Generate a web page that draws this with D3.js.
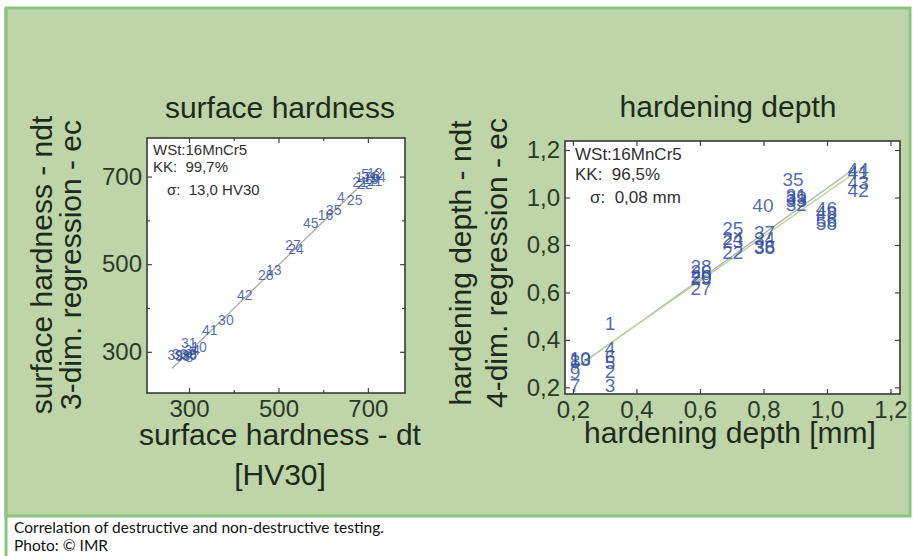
<!DOCTYPE html>
<html><head><meta charset="utf-8">
<script src="https://cdn.jsdelivr.net/npm/d3@7"></script>
<style>html,body{margin:0;padding:0;background:#fff;}svg{display:block;}</style>
</head><body>
<svg id="c" width="913" height="556"></svg>
<script>
// ---------- DATA ----------
// surface hardness chart (HV30)
const shIds = ["39","33","38","36","8","9","34","31","10","41","30","42","28","13","27","24","45","16","35","4","25","22","21","17","19","11","5","12","14","6"];
const shDt  = [252,262,268,283,292,300,290,282,305,329,365,407,454,472,515,522,555,588,606,631,653,676,665,672,690,700,685,698,705,710];
const shNdt = [292,296,290,293,289,295,304,320,312,350,372,430,475,487,544,535,594,612,624,653,647,682,688,700,695,690,705,708,700,702];
const shTicks = [300,500,700];
const shTickLabels = ["300","500","700"];
const shMinorTicks = [400,600];
const shFitX = [262,722];
const shFitY = [262,718];

// hardening depth chart (mm)
const hdIds = ["1","4","6","5","2","3","10","8","13","9","7","28","26","20","29","27","25","24","23","22","37","34","36","38","40","35","31","39","33","32","46","48","56","58","44","41","43","42"];
const hdDt  = [0.30,0.30,0.30,0.30,0.30,0.30,0.19,0.19,0.19,0.19,0.19,0.57,0.57,0.57,0.57,0.57,0.67,0.67,0.67,0.67,0.77,0.77,0.77,0.77,0.765,0.86,0.87,0.87,0.87,0.87,0.965,0.965,0.965,0.965,1.065,1.065,1.065,1.065];
const hdNdt = [0.47,0.366,0.33,0.305,0.27,0.21,0.325,0.31,0.318,0.265,0.21,0.71,0.69,0.67,0.66,0.62,0.87,0.83,0.815,0.77,0.855,0.83,0.795,0.79,0.968,1.077,1.01,1.0,0.99,0.97,0.955,0.94,0.905,0.89,1.12,1.105,1.065,1.03];
const hdTicks = [0.2,0.4,0.6,0.8,1.0,1.2];
const hdTickLabels = ["0,2","0,4","0,6","0,8","1,0","1,2"];
const hdFitGreyX = [0.2,1.09], hdFitGreyY = [0.272,1.125];
const hdFitGreenX = [0.21,1.10], hdFitGreenY = [0.285,1.115];

const captionLines = ["Correlation of destructive and non-destructive testing.","Photo: \u00A9 IMR"];

// ---------- DRAW ----------
const svg = d3.select("#c");
const FONT = "'Liberation Sans', Arial, sans-serif";
const DARK = "#1d2b1d";
const BLUE = "#2f4b9c";

// background panel
svg.append("rect").attr("x",6).attr("y",8).attr("width",904).attr("height",508)
  .attr("fill","#bdd5a8").attr("stroke","#8dc47f").attr("stroke-width",3);
svg.append("line").attr("x1",6).attr("x2",6).attr("y1",8).attr("y2",556)
  .attr("stroke","#8dc47f").attr("stroke-width",3);

function panel(cfg){
  const g = svg.append("g");
  const x = d3.scaleLinear().domain(cfg.xDom).range([cfg.L, cfg.R]);
  const y = d3.scaleLinear().domain(cfg.yDom).range([cfg.B, cfg.T]);
  g.append("rect").attr("x",cfg.L).attr("y",cfg.T).attr("width",cfg.R-cfg.L).attr("height",cfg.B-cfg.T)
    .attr("fill","#fff");
  const clip = "clip"+cfg.name;
  g.append("clipPath").attr("id",clip).append("rect").attr("x",cfg.L).attr("y",cfg.T)
    .attr("width",cfg.R-cfg.L).attr("height",cfg.B-cfg.T);
  const inner = g.append("g").attr("clip-path","url(#"+clip+")");

  // fit lines
  cfg.fits.forEach(f=>{
    inner.append("line").attr("x1",x(f.xs[0])).attr("x2",x(f.xs[1]))
      .attr("y1",y(f.ys[0])).attr("y2",y(f.ys[1]))
      .attr("stroke",f.color).attr("stroke-width",f.w);
  });
  // point labels
  inner.selectAll("text.pt").data(cfg.ids.map((id,i)=>({id,dx:cfg.dt[i],dy:cfg.ndt[i]})))
    .join("text").attr("class","pt")
    .attr("x",d=>x(d.dx)).attr("y",d=>y(d.dy)).attr("dy","0.36em")
    .attr("font-family",FONT).attr("font-size",cfg.ptSize)
    .attr("fill",BLUE).attr("fill-opacity",0.82).text(d=>d.id);

  // annotation
  const an = g.append("g").attr("font-family",FONT).attr("font-size",cfg.anSize).attr("fill","#303030");
  cfg.ann.forEach(a=>an.append("text").attr("x",a[0]).attr("y",a[1]).attr("xml:space","preserve").text(a[2]));

  // axes
  const fmt = (vals,labs)=> (v=>labs[vals.indexOf(v)]);
  const ax = g.append("g").attr("transform",`translate(0,${cfg.B})`)
    .call(d3.axisBottom(x).tickValues(cfg.ticksX).tickFormat(fmt(cfg.ticksX,cfg.labsX)).tickSize(-5).tickPadding(7));
  const ay = g.append("g").attr("transform",`translate(${cfg.L},0)`)
    .call(d3.axisLeft(y).tickValues(cfg.ticksY).tickFormat(fmt(cfg.ticksY,cfg.labsY)).tickSize(-5).tickPadding(5));
  const at = g.append("g").attr("transform",`translate(0,${cfg.T})`)
    .call(d3.axisTop(x).tickValues(cfg.ticksX).tickFormat("").tickSize(-5));
  const ar = g.append("g").attr("transform",`translate(${cfg.R},0)`)
    .call(d3.axisRight(y).tickValues(cfg.ticksY).tickFormat("").tickSize(-5));
  const minors = [];
  if (cfg.minor){
    minors.push(g.append("g").attr("transform",`translate(0,${cfg.B})`).call(d3.axisBottom(x).tickValues(cfg.minor).tickFormat("").tickSize(-3)));
    minors.push(g.append("g").attr("transform",`translate(0,${cfg.T})`).call(d3.axisTop(x).tickValues(cfg.minor).tickFormat("").tickSize(-3)));
    minors.push(g.append("g").attr("transform",`translate(${cfg.L},0)`).call(d3.axisLeft(y).tickValues(cfg.minor).tickFormat("").tickSize(-3)));
    minors.push(g.append("g").attr("transform",`translate(${cfg.R},0)`).call(d3.axisRight(y).tickValues(cfg.minor).tickFormat("").tickSize(-3)));
  }
  [ax,ay,at,ar,...minors].forEach(a=>{
    a.select(".domain").remove();
    a.selectAll("line").attr("stroke","#444").attr("stroke-width",1.2);
    a.selectAll("text").attr("font-family",FONT).attr("font-size",24).attr("fill","#2a3a2a");
  });
  g.append("rect").attr("x",cfg.L).attr("y",cfg.T).attr("width",cfg.R-cfg.L).attr("height",cfg.B-cfg.T)
    .attr("fill","none").attr("stroke","#3a3a3a").attr("stroke-width",1.6);

  // titles / labels
  const t = g.append("g").attr("font-family",FONT).attr("fill",DARK).attr("font-size",30);
  t.append("text").attr("x",cfg.titleX).attr("y",cfg.titleY).attr("text-anchor","middle").text(cfg.title);
  cfg.xLabel.forEach(l=>t.append("text").attr("x",l[0]).attr("y",l[1]).attr("text-anchor","middle").text(l[2]));
  cfg.yLabel.forEach(l=>t.append("text").attr("transform",`translate(${l[0]},${l[1]}) rotate(-90)`).attr("text-anchor","middle").text(l[2]));
}

panel({
  name:"sh", L:147, R:405, T:138, B:393, xDom:[206,783], yDom:[206,788],
  ids:shIds, dt:shDt, ndt:shNdt, ptSize:14,
  ticksX:shTicks, labsX:shTickLabels, ticksY:shTicks, labsY:shTickLabels, minor:shMinorTicks,
  fits:[{xs:shFitX, ys:shFitY, color:"#a9a9a9", w:1.3}],
  anSize:15,
  ann:[[153,155,"WSt:16MnCr5"],[153,172,"KK:  99,7%"],[167,195,"\u03C3:  13,0 HV30"]],
  title:"surface hardness", titleX:280, titleY:118,
  xLabel:[[280,445,"surface hardness - dt"],[280,485,"[HV30]"]],
  yLabel:[[52,265,"surface hardness - ndt"],[81,265,"3-dim. regression - ec"]]
});

panel({
  name:"hd", L:565, R:900, T:141, B:394, xDom:[0.175,1.23], yDom:[0.172,1.238],
  ids:hdIds, dt:hdDt, ndt:hdNdt, ptSize:19,
  ticksX:hdTicks, labsX:hdTickLabels, ticksY:hdTicks, labsY:hdTickLabels,
  fits:[{xs:hdFitGreyX, ys:hdFitGreyY, color:"#b0b0b0", w:1.3},{xs:hdFitGreenX, ys:hdFitGreenY, color:"#b9d99c", w:1.5}],
  anSize:17,
  ann:[[575,160,"WSt:16MnCr5"],[575,180,"KK:  96,5%"],[590,203,"\u03C3:  0,08 mm"]],
  title:"hardening depth", titleX:728, titleY:117,
  xLabel:[[730,443,"hardening depth [mm]"]],
  yLabel:[[471,263,"hardening depth - ndt"],[507,263,"4-dim. regression - ec"]]
});

// caption
const cap = svg.append("g").attr("font-family","Lato, 'Open Sans', sans-serif").attr("font-size",15.5).attr("fill","#111");
captionLines.forEach((c,i)=>cap.append("text").attr("x",14).attr("y",533+i*17.5).text(c));
</script>
</body></html>
